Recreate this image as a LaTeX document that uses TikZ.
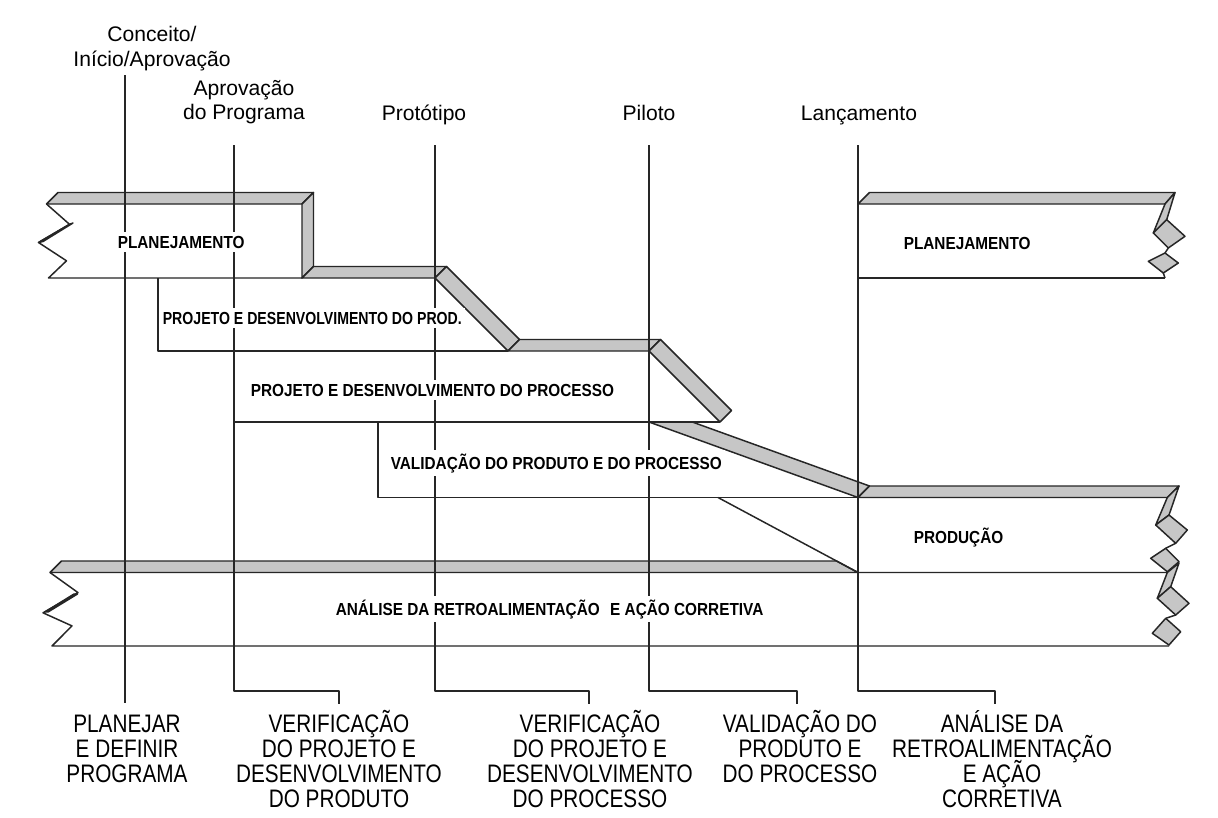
\documentclass[tikz,border=0pt]{standalone}
\usepackage{fontspec}
\usepackage{graphicx}
\setmainfont{Liberation Sans}
\newfontfamily\bandfont[FakeStretch=0.88]{Liberation Sans Bold}
\newfontfamily\bandnarrow[FakeStretch=0.81]{Liberation Sans Bold}
\newfontfamily\phasefont[FakeStretch=0.82]{Liberation Sans}

\tikzset{
  edge/.style={line width=1.05pt, draw=black!85, line join=round},
  face/.style={edge, fill=gray!45},
  tlabel/.style={font=\fontsize{15}{18}\selectfont, inner sep=0pt, anchor=base},
  blabel/.style={font=\bandfont\fontsize{12.4}{14}\selectfont, fill=white, inner sep=2.5pt, anchor=base west},
  plabel/.style={font=\phasefont\fontsize{18}{18}\selectfont, inner sep=0pt, anchor=base},
}

\begin{document}
\begin{tikzpicture}[x=0.025cm,y=-0.025cm]
\path[use as bounding box, fill=white] (0,0) rectangle (1218,817);

% ---------- gray top and side faces of the ribbons ----------
% planning (left)
\path[face] (58,192.5) -- (313.5,192.5) -- (302,204) -- (46.5,204) -- cycle;
\path[face] (302,204) -- (313.5,192.5) -- (313.5,266.5) -- (302,278) -- cycle;
\path[face] (38.5,242.5) -- (69.5,224.3) -- (73,223) -- (43,241.5) -- cycle;
% product design and development
\path[face] (302,278) -- (313.5,266.5) -- (446.5,266.5) -- (435,278) -- cycle;
\path[face] (435,278) -- (446.5,266.5) -- (519.5,339.5) -- (508,351) -- cycle;
% process design and development
\path[face] (508,351) -- (519.5,339.5) -- (660.5,339.5) -- (649,351) -- cycle;
\path[face] (649,351) -- (660.5,339.5) -- (731.5,410.5) -- (720,422) -- cycle;
% product and process validation
\path[face] (649,422) -- (692.3,422) -- (869.5,486) -- (858,497.5) -- cycle;
% production
\path[face] (858,497.5) -- (869.5,486) -- (1179,486) -- (1167.3,497.5) -- cycle;
\path[face] (1167.3,497.5) -- (1179,486) -- (1169,515) -- (1155.7,525) -- cycle;
\path[face] (1155.7,525) -- (1169,515) -- (1187.3,530) -- (1175.7,543.3) -- cycle;
\path[face] (1165.7,548.3) -- (1179,561.7) -- (1167.3,571.7) -- (1150.7,558.3) -- cycle;
\draw[edge] (1175.7,543.3) -- (1165.7,548.3);
% feedback assessment and corrective action
\path[face] (50,572.5) -- (61.5,561) -- (836.5,561) -- (858,572.5) -- cycle;
\path[face] (45,612) -- (74,594) -- (77.5,594) -- (48,612) -- cycle;
\path[face] (1167.3,572.5) -- (1179,563) -- (1170.7,586.7) -- (1157.3,598.3) -- cycle;
\path[face] (1157.3,598.3) -- (1170.7,586.7) -- (1189,603.3) -- (1175.7,615) -- cycle;
\path[face] (1165.7,618.3) -- (1180.7,631.7) -- (1169,645) -- (1152.3,633.3) -- cycle;
\draw[edge] (1175.7,615) -- (1165.7,618.3);
% planning (next program)
\path[face] (858,204) -- (869.5,192.5) -- (1175,192.5) -- (1165,204) -- cycle;
\path[face] (1165,204) -- (1175,192.5) -- (1166.7,219.7) -- (1153.3,233) -- cycle;
\path[face] (1153.3,233) -- (1166.7,219.7) -- (1185,236.3) -- (1168.3,248) -- cycle;
\path[face] (1165,253) -- (1178.3,263) -- (1163.3,273) -- (1148.3,261.3) -- cycle;
\draw[edge] (1168.3,248) -- (1165,253);
\draw[edge] (1163.3,273) -- (1165,278);

% ---------- front outlines of the ribbons ----------
\draw[edge] (46.5,204) -- (69.5,224.3) -- (38.5,242.5) -- (66.5,260.8) -- (48.5,278) -- (302,278);
\draw[edge] (158,278) -- (158,351) -- (508,351);
\draw[edge] (234,422) -- (720,422);
\draw[edge] (378,422) -- (378,497.5) -- (858,497.5);
\draw[edge] (718,497.5) -- (858,572.5) -- (1167.3,572.5);
\draw[edge] (50,572.5) -- (78,592.6) -- (43,612.8) -- (72,625.9) -- (52,646) -- (1169,646);
\draw[edge] (858,278) -- (1165,278);

% ---------- milestone lines ----------
\draw[edge] (125,75) -- (125,703);
\draw[edge] (234,145) -- (234,691) -- (339,691) -- (339,704);
\draw[edge] (435,145) -- (435,691) -- (589,691) -- (589,704);
\draw[edge] (649,145) -- (649,691) -- (797,691) -- (797,704);
\draw[edge] (858,145) -- (858,691) -- (995,691) -- (995,704);

% ---------- milestone names ----------
\node[tlabel] (m1a) at (152,41) {Conceito/};
\node[tlabel] (m1b) at (152,66) {Início/Aprovação};
\node[tlabel] (m2a) at (244,95) {Aprovação};
\node[tlabel] (m2b) at (244,119) {do Programa};
\node[tlabel] (m3) at (424,120) {Protótipo};
\node[tlabel] (m4) at (649,120) {Piloto};
\node[tlabel] (m5) at (859,120) {Lançamento};

% ---------- ribbon names ----------
\node[blabel] (b1) at (114,248) {PLANEJAMENTO};
\node[blabel, font=\bandnarrow\fontsize{12.4}{14}\selectfont] (b2) at (159,324) {PROJETO E DESENVOLVIMENTO DO PROD.};
\node[blabel] (b3) at (247,396) {PROJETO E DESENVOLVIMENTO DO PROCESSO};
\node[blabel] (b4) at (387,469) {VALIDAÇÃO DO PRODUTO E DO PROCESSO};
\node[blabel] (b5) at (910,543) {PRODUÇÃO};
\node[blabel] (b6) at (900,249) {PLANEJAMENTO};
\node[blabel] (b7) at (332,615) {ANÁLISE DA RETROALIMENTAÇÃO\hspace{0.6em}E AÇÃO CORRETIVA};

% ---------- phase names ----------
\foreach \txt [count=\i] in {PLANEJAR,E DEFINIR,PROGRAMA}
  \node[plabel] (pa\i) at (127,{732+25*(\i-1)}) {\txt};
\foreach \txt [count=\i] in {VERIFICAÇÃO,DO PROJETO E,DESENVOLVIMENTO,DO PRODUTO}
  \node[plabel] (pb\i) at (339,{732+25*(\i-1)}) {\txt};
\foreach \txt [count=\i] in {VERIFICAÇÃO,DO PROJETO E,DESENVOLVIMENTO,DO PROCESSO}
  \node[plabel] (pc\i) at (590,{732+25*(\i-1)}) {\txt};
\foreach \txt [count=\i] in {VALIDAÇÃO DO,PRODUTO E,DO PROCESSO}
  \node[plabel] (pd\i) at (800,{732+25*(\i-1)}) {\txt};
\foreach \txt [count=\i] in {ANÁLISE DA,RETROALIMENTAÇÃO,E AÇÃO,CORRETIVA}
  \node[plabel] (pe\i) at (1002,{732+25*(\i-1)}) {\txt};
\end{tikzpicture}
\end{document}
